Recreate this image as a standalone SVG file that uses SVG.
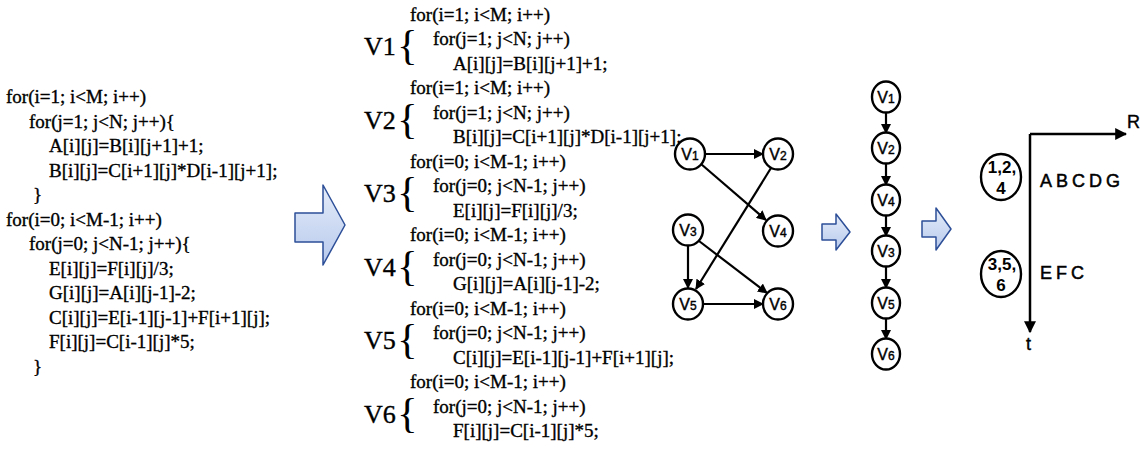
<svg xmlns="http://www.w3.org/2000/svg" width="1140" height="450" viewBox="0 0 1140 450">
<defs>
<linearGradient id="bg" x1="0" y1="0" x2="0" y2="1">
<stop offset="0" stop-color="#e4ecf9"/>
<stop offset="1" stop-color="#b7c9ec"/>
</linearGradient>
<marker id="ah" viewBox="0 0 10 10" refX="9" refY="5" markerWidth="10" markerHeight="10" markerUnits="userSpaceOnUse" orient="auto">
<path d="M0,0 L10,5 L0,10 Z" fill="#000"/>
</marker>
<marker id="ah2" viewBox="0 0 10 10" refX="9" refY="5" markerWidth="12" markerHeight="12" markerUnits="userSpaceOnUse" orient="auto">
<path d="M0,0 L10,5 L0,10 Z" fill="#000"/>
</marker>
</defs>
<style>
.code{font-family:"Liberation Serif","Times New Roman",serif;font-size:19px;fill:#000;stroke:#000;stroke-width:0.35}
.vl{font-family:"Liberation Serif","Times New Roman",serif;font-size:26px;fill:#000;stroke:#000;stroke-width:0.4}
.br{font-family:"Liberation Serif","Times New Roman",serif;font-size:43px;fill:#000}
.node{fill:#fff;stroke:#000;stroke-width:2.4}
.nl{font-family:"Liberation Sans",Arial,sans-serif;font-size:16px;fill:#000;text-anchor:middle;stroke:#000;stroke-width:0.4}
.sub{font-size:12px}
.edge{stroke:#000;stroke-width:2.2;fill:none;marker-end:url(#ah)}
.ax{stroke:#000;stroke-width:2.5;fill:none;marker-end:url(#ah2)}
.blue{fill:url(#bg);stroke:#2d4f98;stroke-width:1.5;stroke-linejoin:round}
.lbl{font-family:"Liberation Sans",Arial,sans-serif;font-size:18px;fill:#000;stroke:#000;stroke-width:0.5;letter-spacing:4px}
.cl{font-family:"Liberation Sans",Arial,sans-serif;font-size:17px;font-weight:bold;fill:#000;text-anchor:middle}
.ax-t{font-family:"Liberation Sans",Arial,sans-serif;font-size:18px;fill:#000;stroke:#000;stroke-width:0.4}
</style>
<rect width="1140" height="450" fill="#fff"/>

<g id="code-left" class="code">
<text x="6" y="103">for(i=1; i&lt;M; i++)</text>
<text x="29" y="127.5">for(j=1; j&lt;N; j++){</text>
<text x="49" y="152">A[i][j]=B[i][j+1]+1;</text>
<text x="49" y="176.5">B[i][j]=C[i+1][j]*D[i-1][j+1];</text>
<text x="33" y="201">}</text>
<text x="6" y="225.5">for(i=0; i&lt;M-1; i++)</text>
<text x="29" y="250">for(j=0; j&lt;N-1; j++){</text>
<text x="49" y="274.5">E[i][j]=F[i][j]/3;</text>
<text x="49" y="299">G[i][j]=A[i][j-1]-2;</text>
<text x="49" y="323.5">C[i][j]=E[i-1][j-1]+F[i+1][j];</text>
<text x="49" y="348">F[i][j]=C[i-1][j]*5;</text>
<text x="33" y="372.5">}</text>
</g>

<path id="arrow-big" class="blue" d="M295,213 L323,213 L323,185 L345,225 L323,265 L323,242 L295,242 Z"/>

<g id="V1-code">
<text class="vl" x="364" y="55">V1</text><text class="br" x="397" y="59">{</text>
<text class="code" x="410" y="20.5">for(i=1; i&lt;M; i++)</text>
<text class="code" x="433" y="45">for(j=1; j&lt;N; j++)</text>
<text class="code" x="453" y="69.5">A[i][j]=B[i][j+1]+1;</text>
</g>
<g id="V2-code">
<text class="vl" x="364" y="128.5">V2</text><text class="br" x="397" y="132.5">{</text>
<text class="code" x="410" y="94">for(i=1; i&lt;M; i++)</text>
<text class="code" x="433" y="118.5">for(j=1; j&lt;N; j++)</text>
<text class="code" x="453" y="143">B[i][j]=C[i+1][j]*D[i-1][j+1];</text>
</g>
<g id="V3-code">
<text class="vl" x="364" y="202">V3</text><text class="br" x="397" y="206">{</text>
<text class="code" x="410" y="167.5">for(i=0; i&lt;M-1; i++)</text>
<text class="code" x="433" y="192">for(j=0; j&lt;N-1; j++)</text>
<text class="code" x="453" y="216.5">E[i][j]=F[i][j]/3;</text>
</g>
<g id="V4-code">
<text class="vl" x="364" y="275.5">V4</text><text class="br" x="397" y="279.5">{</text>
<text class="code" x="410" y="241">for(i=0; i&lt;M-1; i++)</text>
<text class="code" x="433" y="265.5">for(j=0; j&lt;N-1; j++)</text>
<text class="code" x="453" y="290">G[i][j]=A[i][j-1]-2;</text>
</g>
<g id="V5-code">
<text class="vl" x="364" y="349">V5</text><text class="br" x="397" y="353">{</text>
<text class="code" x="410" y="314.5">for(i=0; i&lt;M-1; i++)</text>
<text class="code" x="433" y="339">for(j=0; j&lt;N-1; j++)</text>
<text class="code" x="453" y="363.5">C[i][j]=E[i-1][j-1]+F[i+1][j];</text>
</g>
<g id="V6-code">
<text class="vl" x="364" y="422.5">V6</text><text class="br" x="397" y="426.5">{</text>
<text class="code" x="410" y="388">for(i=0; i&lt;M-1; i++)</text>
<text class="code" x="433" y="412.5">for(j=0; j&lt;N-1; j++)</text>
<text class="code" x="453" y="437">F[i][j]=C[i-1][j]*5;</text>
</g>

<g id="dag-edges">
<line class="edge" x1="705" y1="154" x2="763" y2="154"/>
<line class="edge" x1="701" y1="164" x2="766" y2="220"/>
<line class="edge" x1="771" y1="168" x2="696" y2="289"/>
<line class="edge" x1="688" y1="246" x2="688" y2="288"/>
<line class="edge" x1="699" y1="241" x2="767" y2="293"/>
<line class="edge" x1="703" y1="304" x2="763" y2="304"/>
</g>
<g id="dag-V1"><ellipse class="node" cx="690" cy="154" rx="15" ry="15.5"/><text class="nl" x="690" y="160">V<tspan class="sub">1</tspan></text></g>
<g id="dag-V2"><ellipse class="node" cx="778" cy="154" rx="15" ry="15.5"/><text class="nl" x="778" y="160">V<tspan class="sub">2</tspan></text></g>
<g id="dag-V3"><ellipse class="node" cx="688" cy="230" rx="15" ry="15.5"/><text class="nl" x="688" y="236">V<tspan class="sub">3</tspan></text></g>
<g id="dag-V4"><ellipse class="node" cx="778" cy="231" rx="15" ry="15.5"/><text class="nl" x="778" y="237">V<tspan class="sub">4</tspan></text></g>
<g id="dag-V5"><ellipse class="node" cx="688" cy="304" rx="15" ry="15.5"/><text class="nl" x="688" y="310">V<tspan class="sub">5</tspan></text></g>
<g id="dag-V6"><ellipse class="node" cx="778" cy="304" rx="15" ry="15.5"/><text class="nl" x="778" y="310">V<tspan class="sub">6</tspan></text></g>

<path id="arrow-small-1" class="blue" d="M822,224 L836,224 L836,214 L850,232 L836,250 L836,240 L822,240 Z"/>

<g id="chain-edges">
<line class="edge" x1="886" y1="113" x2="886" y2="133"/>
<line class="edge" x1="886" y1="164" x2="886" y2="185"/>
<line class="edge" x1="886" y1="216" x2="886" y2="236"/>
<line class="edge" x1="886" y1="267" x2="886" y2="288"/>
<line class="edge" x1="886" y1="319" x2="886" y2="339"/>
</g>
<g id="chain-V1"><ellipse class="node" cx="886" cy="97" rx="14" ry="15.5"/><text class="nl" x="886" y="103">V<tspan class="sub">1</tspan></text></g>
<g id="chain-V2"><ellipse class="node" cx="886" cy="148" rx="14" ry="15.5"/><text class="nl" x="886" y="154">V<tspan class="sub">2</tspan></text></g>
<g id="chain-V4"><ellipse class="node" cx="886" cy="200" rx="14" ry="15.5"/><text class="nl" x="886" y="206">V<tspan class="sub">4</tspan></text></g>
<g id="chain-V3"><ellipse class="node" cx="886" cy="251" rx="14" ry="15.5"/><text class="nl" x="886" y="257">V<tspan class="sub">3</tspan></text></g>
<g id="chain-V5"><ellipse class="node" cx="886" cy="303" rx="14" ry="15.5"/><text class="nl" x="886" y="309">V<tspan class="sub">5</tspan></text></g>
<g id="chain-V6"><ellipse class="node" cx="886" cy="354" rx="14" ry="15.5"/><text class="nl" x="886" y="360">V<tspan class="sub">6</tspan></text></g>

<path id="arrow-small-2" class="blue" d="M922,221 L936,221 L936,208 L951,229 L936,250 L936,237 L922,237 Z"/>

<g id="axes">
<path class="ax" d="M1030,134 L1030,332"/>
<path class="ax" d="M1030,134 L1126,134"/>
<text class="ax-t" x="1127" y="128">R</text>
<text class="ax-t" x="1026" y="350">t</text>
</g>
<g id="group-124"><ellipse class="node" cx="1001" cy="177" rx="20" ry="23"/><text class="cl" x="1002" y="173">1,2,</text><text class="cl" x="1001" y="194">4</text></g>
<g id="group-356"><ellipse class="node" cx="1001" cy="274" rx="20" ry="23"/><text class="cl" x="1002" y="270">3,5,</text><text class="cl" x="1001" y="291">6</text></g>
<text class="lbl" x="1040" y="187">ABCDG</text>
<text class="lbl" x="1040" y="279">EFC</text>
</svg>
